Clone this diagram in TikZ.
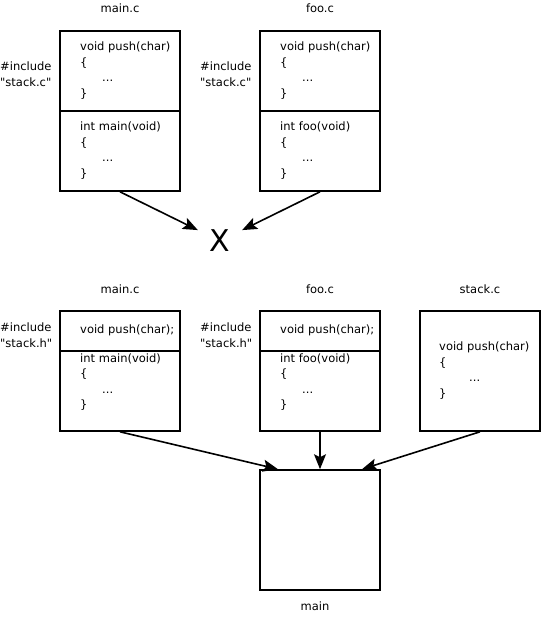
\documentclass[tikz,border=0pt]{standalone}
\usepackage{fontspec}
\setmainfont{DejaVu Sans}[Ligatures=TeXOff]
\usetikzlibrary{arrows.meta}

\begin{document}
\begin{tikzpicture}[x=1pt,y=-1pt,
	box/.style={draw, line width=1.6pt, minimum width=120pt, minimum height=120pt, inner sep=0pt},
	code/.style={anchor=north west, inner sep=0pt, align=left, font=\fontsize{11.5}{15.5}\selectfont},
	filename/.style={anchor=base, inner sep=0pt, font=\fontsize{11.5}{15.5}\selectfont},
	link/.style={line width=1.6pt, -{Stealth[length=15pt,width=12pt,inset=3pt]}}]
		\useasboundingbox (0,0) rectangle (541,619);

		% including the source file
		\node[box, minimum height=160pt] (mainA) at (120,111) {};
		\node[box, minimum height=160pt] (fooA) at (320,111) {};
		\draw[line width=1.6pt] (mainA.west) -- (mainA.east);
		\draw[line width=1.6pt] (fooA.west) -- (fooA.east);

		\node[filename] (mainAname) at (120,12) {main.c};
		\node[filename] (fooAname) at (320,12) {foo.c};
		\node[code] (mainAinc) at (0,61.7) {\#include\\"stack.c"};
		\node[code] (fooAinc) at (200,61.7) {\#include\\"stack.c"};

		\node[code] (mainApush) at (80,41.7) {void push(char)\\\{\\\hspace*{22pt}...\\\}};
		\node[code] (mainAbody) at (80,121.7) {int main(void)\\\{\\\hspace*{22pt}...\\\}};
		\node[code] (fooApush) at (280,41.7) {void push(char)\\\{\\\hspace*{22pt}...\\\}};
		\node[code] (fooAbody) at (280,121.7) {int foo(void)\\\{\\\hspace*{22pt}...\\\}};

		\node[circle, minimum size=49pt, inner sep=0pt, font=\fontsize{30}{30}\selectfont] (clash) at (220,241) {X};
		\draw[link] (mainA.south) -- (clash);
		\draw[link] (fooA.south) -- (clash);

		% including the header
		\node[box] (mainB) at (120,371) {};
		\node[box] (fooB) at (320,371) {};
		\node[box] (stack) at (480,371) {};
		\node[box] (prog) at (320,530) {};
		\draw[line width=1.6pt] ([yshift=20pt]mainB.west) -- ([yshift=20pt]mainB.east);
		\draw[line width=1.6pt] ([yshift=20pt]fooB.west) -- ([yshift=20pt]fooB.east);

		\node[filename] (mainBname) at (120,293) {main.c};
		\node[filename] (fooBname) at (320,293) {foo.c};
		\node[filename] (stackname) at (480,293) {stack.c};
		\node[filename] (progname) at (315,610) {main};
		\node[code] (mainBinc) at (0,322.7) {\#include\\"stack.h"};
		\node[code] (fooBinc) at (200,322.7) {\#include\\"stack.h"};

		\node[code] (mainBproto) at (80,324.3) {void push(char);};
		\node[code] (mainBbody) at (80,353.3) {int main(void)\\\{\\\hspace*{22pt}...\\\}};
		\node[code] (fooBproto) at (280,324.3) {void push(char);};
		\node[code] (fooBbody) at (280,353.3) {int foo(void)\\\{\\\hspace*{22pt}...\\\}};
		\node[code] (stackbody) at (439,341.7) {void push(char)\\\{\\\hspace*{30pt}...\\\}};

		\draw[link] (mainB.south) -- ([xshift=-42pt]prog.north);
		\draw[link] (fooB.south) -- (prog.north);
		\draw[link] (stack.south) -- ([xshift=42pt]prog.north);
	\end{tikzpicture}
\end{document}
